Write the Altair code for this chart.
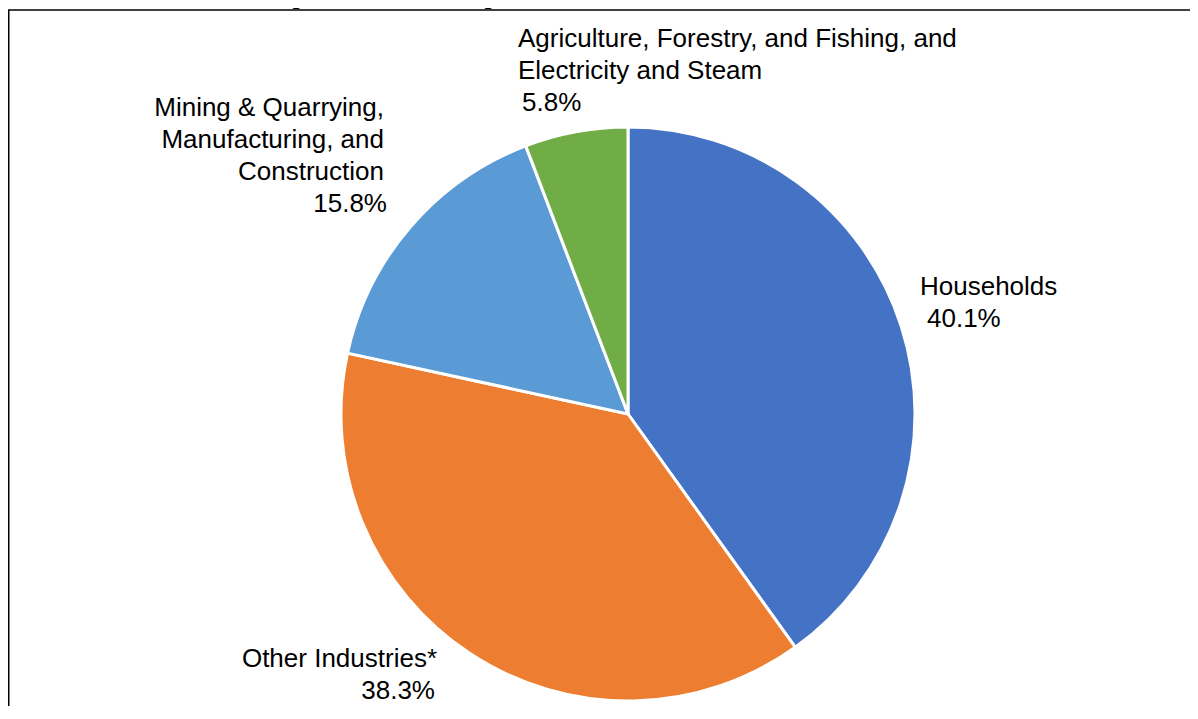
import altair as alt
import pandas as pd

# ---- data ----
categories = [
    "Households",
    "Other Industries*",
    "Mining & Quarrying, Manufacturing, and Construction",
    "Agriculture, Forestry, and Fishing, and Electricity and Steam",
]
shares = [40.1, 38.3, 15.8, 5.8]
label_lines = [
    ["Households"],
    ["Other Industries*"],
    ["Mining & Quarrying,", "Manufacturing, and", "Construction"],
    ["Agriculture, Forestry, and Fishing, and", "Electricity and Steam"],
]
colors = ["#4472C4", "#ED7D31", "#5B9BD5", "#70AD47"]
title_text = "Figure 3: Percentage Share of Water for Distribution: 2023"

df = pd.DataFrame({
    "category": categories,
    "share": shares,
    "idx": list(range(len(categories))),
    "name": ["\n".join(lines) for lines in label_lines],
    "pct": [f"{v:.1f}%" for v in shares],
    "nlines": [len(lines) for lines in label_lines],
})

W, H = 1182, 698
CX, CY, R = 620, 406, 287
FONT = "Liberation Sans"
FS = 26
LH = 32

base = alt.Chart(df)

pie = base.mark_arc(outerRadius=R, stroke="white", strokeWidth=3).encode(
    theta=alt.Theta("share:Q", stack=True),
    color=alt.Color("category:N", scale=alt.Scale(domain=categories, range=colors), legend=None),
    order=alt.Order("idx:Q"),
    x=alt.value(CX),
    y=alt.value(CY),
)

# label anchors: (category, align, name x, pct x, y of first baseline)
label_specs = [
    (categories[0], "left", 912, 919, 287),
    (categories[1], "right", 429, 427, 659),
    (categories[2], "right", 376, 379, 108),
    (categories[3], "left", 510, 514, 39),
]

text_layers = []
for (cat, align, nx, px, ly), lines in zip(label_specs, label_lines):
    sel = base.transform_filter(alt.datum.category == cat)
    text_layers.append(
        sel.mark_text(align=align, baseline="alphabetic", font=FONT, fontSize=FS,
                      lineHeight=LH, lineBreak="\n", color="black")
        .encode(text="name:N", x=alt.value(nx), y=alt.value(ly))
    )
    text_layers.append(
        sel.mark_text(align=align, baseline="alphabetic", font=FONT, fontSize=FS,
                      color="black")
        .encode(text="pct:N", x=alt.value(px), y=alt.value(ly + LH * len(lines)))
    )

one = alt.Chart(pd.DataFrame({"a": [0]}))
frame_left = one.mark_rule(color="black", strokeWidth=1.5).encode(
    x=alt.value(0.75), y=alt.value(2), y2=alt.value(H)
)
frame_top = one.mark_rule(color="black", strokeWidth=1.5).encode(
    x=alt.value(0), x2=alt.value(W), y=alt.value(2)
)
title = one.mark_text(align="center", baseline="alphabetic", font=FONT, fontSize=FS,
                      color="black").encode(
    text=alt.value(title_text), x=alt.value(595), y=alt.value(-4)
)

chart = alt.layer(pie, *text_layers, frame_left, frame_top, title).properties(
    width=W,
    height=H,
    autosize=alt.AutoSizeParams(type="none"),
    padding=0,
    background="white",
).configure_view(stroke=None)

chart.save("out.html", embed_options={"renderer": "svg", "actions": False})
